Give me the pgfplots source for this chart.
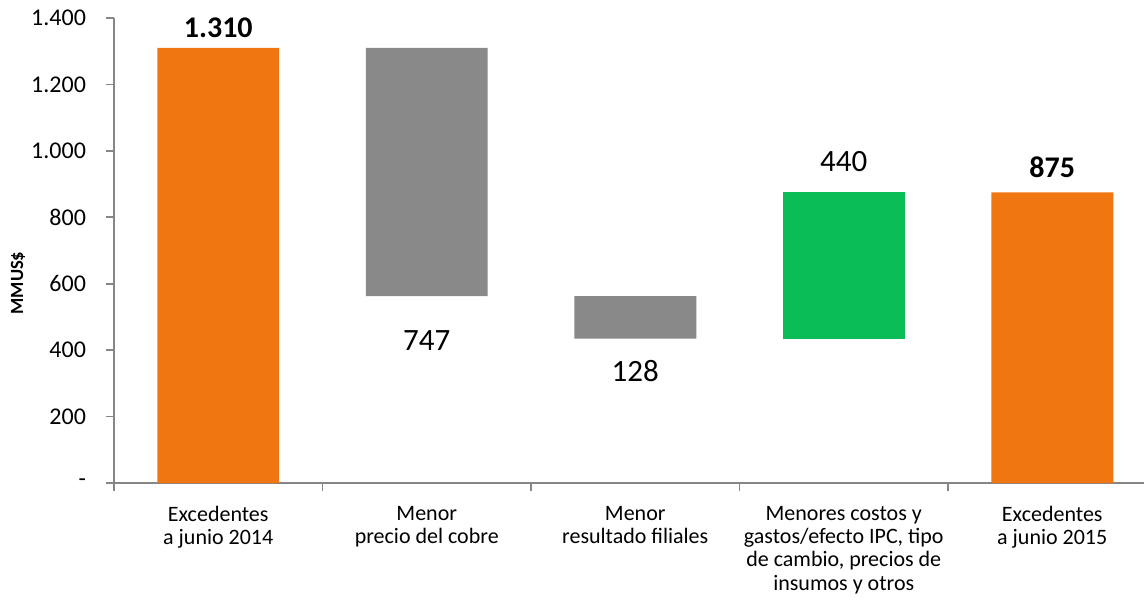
\documentclass[border=0pt]{standalone}
\usepackage{fontspec}
\setmainfont{Carlito}
\usepackage{pgfplots}
\pgfplotsset{compat=1.18}
\definecolor{orangebar}{RGB}{240,118,18}
\definecolor{graybar}{RGB}{137,137,137}
\definecolor{greenbar}{RGB}{10,188,86}
\definecolor{axisgray}{RGB}{134,134,134}
\begin{document}
\begin{tikzpicture}
\begin{axis}[
  scale only axis, width=515pt, height=232.5pt,
  xmin=-0.5, xmax=4.44, ymin=0, ymax=1400,
  ybar stacked, bar width=0.585,
  axis x line*=bottom, axis y line*=left,
  axis line style={axisgray, line width=0.8pt, -},
  tick align=outside,
  major tick length=4pt, minor tick length=4pt,
  tick style={axisgray, line width=0.8pt},
  ytick={0,200,...,1400},
  yticklabels={-,200,400,600,800,1.000,1.200,1.400},
  yticklabel style={font=\fontsize{12}{14}\selectfont, xshift=-6.5pt},
  xtick={0,1,2,3,4},
  xticklabels={{Excedentes\\a junio 2014},{Menor\\precio del cobre},{Menor\\resultado filiales},{Menores costos y\\gastos/efecto IPC, tipo\\de cambio, precios de\\insumos y otros},{Excedentes\\a junio 2015}},
  xticklabel style={font=\fontsize{11}{11.7}\selectfont, align=center, anchor=north, yshift=-4pt},
  major x tick style={draw=none},
  minor xtick={-0.5,0.5,1.5,2.5,3.5},
  minor x tick style={axisgray, line width=0.8pt},
  ylabel={MMUS\$},
  every axis y label/.style={at={(rel axis cs:0,0.43)}, xshift=-48pt, rotate=90, anchor=center, font=\bfseries\fontsize{9.3}{11}\selectfont},
  clip=false,
]
\addplot[draw=none, fill=none] coordinates {(0,0) (1,563) (2,435) (3,435) (4,0)};
\addplot[draw=none, fill=orangebar] coordinates {(0,1310) (1,0) (2,0) (3,0) (4,875)};
\addplot[draw=none, fill=graybar] coordinates {(0,0) (1,747) (2,128) (3,0) (4,0)};
\addplot[draw=none, fill=greenbar] coordinates {(0,0) (1,0) (2,0) (3,440) (4,0)};
\node[font=\bfseries\fontsize{15}{17}\selectfont] at (axis cs:0,1370) {1.310};
\node[font=\fontsize{15.5}{17}\selectfont] at (axis cs:1,428) {747};
\node[font=\fontsize{15.5}{17}\selectfont] at (axis cs:2,337) {128};
\node[font=\fontsize{15.5}{17}\selectfont] at (axis cs:3,967) {440};
\node[font=\bfseries\fontsize{15}{17}\selectfont] at (axis cs:4,951) {875};
\coordinate (sw) at (rel axis cs:0,0);
\coordinate (ne) at (rel axis cs:1,1);
\end{axis}
\pgfresetboundingbox
\path ([shift={(-57pt,-61pt)}]sw) rectangle ([shift={(0pt,9pt)}]ne);
\end{tikzpicture}
\end{document}
